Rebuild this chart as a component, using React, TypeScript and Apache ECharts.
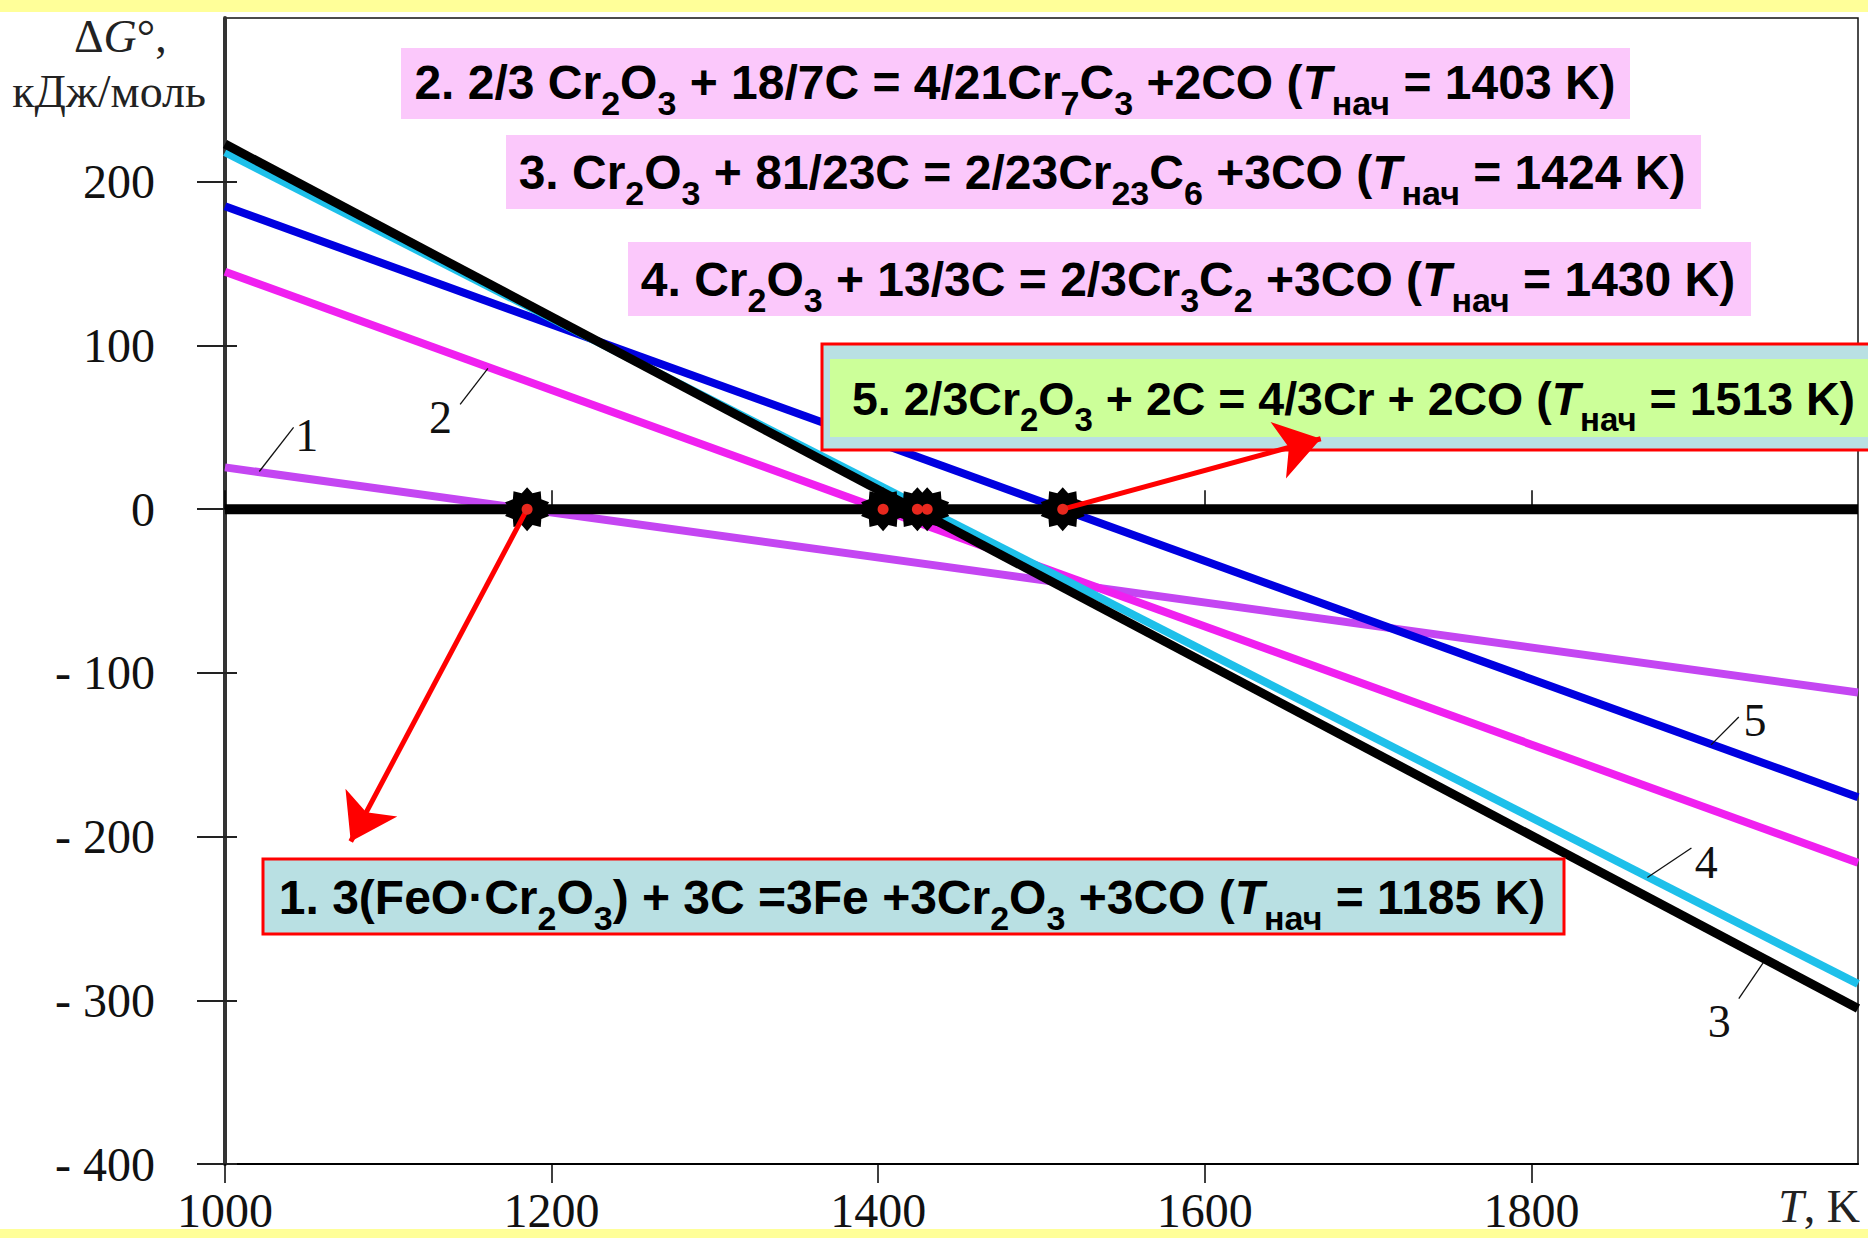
import React, { useEffect, useRef } from 'react';
import * as echarts from 'echarts';

// ---------------- data ----------------
const tempRange = [1000, 2000]; // T, K
const reaction1 = [25.5, -112]; // ΔG°, kJ/mol at tempRange
const reaction2 = [145, -216];
const reaction3 = [223, -305];
const reaction4 = [218, -290];
const reaction5 = [185, -176];
const zeroLevel = [0, 0];
const startTemps = [1185, 1403, 1424, 1430, 1513];
const curveLabels = ['1', '2', '3', '4', '5'];
const xTickValues = [1000, 1200, 1400, 1600, 1800];
const yTickValues = [-400, -300, -200, -100, 0, 100, 200];

// ---------------- annotation layout (in data coordinates) ----------------
const leaderLines = [
  [[1021, 23], [1042, 50]],
  [[1144, 64], [1161, 86]],
  [[1942, -277], [1927, -299]],
  [[1871, -225], [1898, -207]],
  [[1910, -144], [1927, -127]],
];
const labelSpots = [[1050, 45], [1132, 56], [1915, -313], [1907, -216], [1937, -129]];
const arrowTargets = [[1077, -203], [1671, 43]];
const arrowSources = [startTemps[0], startTemps[4]];

// ---------------- formula texts ----------------
const formula1 = [['n', '1. 3(FeO·Cr'], ['s', '2'], ['n', 'O'], ['s', '3'], ['n', ') + 3C =3Fe +3Cr'], ['s', '2'], ['n', 'O'], ['s', '3'], ['n', ' +3CO ('], ['t', 'T'], ['s', 'нач'], ['n', ' = 1185 K)']];
const formula2 = [['n', '2. 2/3 Cr'], ['s', '2'], ['n', 'O'], ['s', '3'], ['n', ' + 18/7C = 4/21Cr'], ['s', '7'], ['n', 'C'], ['s', '3'], ['n', ' +2CO ('], ['t', 'T'], ['s', 'нач'], ['n', ' = 1403 K)']];
const formula3 = [['n', '3. Cr'], ['s', '2'], ['n', 'O'], ['s', '3'], ['n', ' + 81/23C = 2/23Cr'], ['s', '23'], ['n', 'C'], ['s', '6'], ['n', ' +3CO ('], ['t', 'T'], ['s', 'нач'], ['n', ' = 1424 K)']];
const formula4 = [['n', '4. Cr'], ['s', '2'], ['n', 'O'], ['s', '3'], ['n', ' + 13/3C = 2/3Cr'], ['s', '3'], ['n', 'C'], ['s', '2'], ['n', ' +3CO ('], ['t', 'T'], ['s', 'нач'], ['n', ' = 1430 K)']];
const formula5 = [['n', '5. 2/3Cr'], ['s', '2'], ['n', 'O'], ['s', '3'], ['n', ' + 2C = 4/3Cr + 2CO ('], ['t', 'T'], ['s', 'нач'], ['n', ' = 1513 K)']];

const SANS = 'Liberation Sans';
const SERIF = 'Liberation Serif';
const PINK = '#fbc8fb';
const PALE_BLUE = '#b9e0e3';
const PALE_GREEN = '#ccff99';
const YELLOW = '#ffff99';

function makeRich(main: number, sub: number, drop: number) {
  return {
    n: { fontFamily: SANS, fontWeight: 'bold', fontSize: main, lineHeight: 80, fill: '#000' },
    t: { fontFamily: SANS, fontWeight: 'bold', fontStyle: 'italic', fontSize: main, lineHeight: 80, fill: '#000' },
    s: { fontFamily: SANS, fontWeight: 'bold', fontSize: sub, padding: [drop, 0, 0, 0], fill: '#000' },
  };
}
const formulaRich = makeRich(48, 34, 42);
const formulaRichTight = makeRich(46.5, 33, 41);

function richText(parts: string[][]) {
  return parts.map(([k, t]) => `{${k}|${t}}`).join('');
}

function starPath(points: number, outer: number, inner: number) {
  const segs: string[] = [];
  for (let i = 0; i < points * 2; i++) {
    const r = i % 2 === 0 ? outer : inner;
    const a = (Math.PI * i) / points - Math.PI / 2;
    segs.push(`${i === 0 ? 'M' : 'L'}${(r * Math.cos(a)).toFixed(2)} ${(r * Math.sin(a)).toFixed(2)}`);
  }
  return 'path://' + segs.join(' ') + ' Z';
}

const pairs = (ys: number[]) => tempRange.map((t, i) => [t, ys[i]]);

function lineSeries(name: string, ys: number[], color: string, width: number, z: number) {
  return {
    type: 'line',
    name,
    data: pairs(ys),
    showSymbol: false,
    symbol: 'none',
    silent: true,
    z,
    lineStyle: { color, width, cap: 'butt' },
    emphasis: { disabled: true },
  };
}

function formulaText(parts: string[][], x: number, y: number, align: string, rich: any = formulaRich) {
  return {
    type: 'text',
    x,
    y,
    z: 12,
    silent: true,
    style: {
      text: richText(parts),
      rich,
      align,
      verticalAlign: 'middle',
      fontFamily: SANS,
      fontWeight: 'bold',
      fontSize: 48,
      fill: '#000',
    },
  };
}

const serifLabel = { fontFamily: SERIF, fontSize: 48, color: '#111' };

const option = {
  animation: false,
  backgroundColor: '#ffffff',
  grid: {
    left: 225,
    top: 18,
    width: 1633,
    height: 1146,
    show: true,
    borderColor: '#111',
    borderWidth: 1.5,
    backgroundColor: 'transparent',
    containLabel: false,
    outerBoundsMode: 'none',
  },
  xAxis: [
    {
      type: 'value',
      position: 'bottom',
      min: 1000,
      max: 2000,
      interval: 200,
      axisLine: { show: true, onZero: false, lineStyle: { color: '#000', width: 2 } },
      axisTick: { show: true, inside: false, length: 19, customValues: xTickValues, lineStyle: { color: '#000', width: 1.5 } },
      axisLabel: { show: true, margin: 22, customValues: xTickValues, formatter: (v: number) => String(v), ...serifLabel },
      splitLine: { show: false },
    },
    {
      type: 'value',
      position: 'bottom',
      min: 1000,
      max: 2000,
      interval: 200,
      axisLine: { show: false },
      axisTick: { show: true, inside: true, length: 19, customValues: xTickValues, lineStyle: { color: '#000', width: 1.5 } },
      axisLabel: { show: false },
      splitLine: { show: false },
    },
  ],
  yAxis: [
    {
      type: 'value',
      position: 'left',
      min: -400,
      max: 300,
      interval: 100,
      axisLine: { show: true, onZero: false, lineStyle: { color: '#333', width: 4 } },
      axisTick: { show: true, inside: false, length: 28, customValues: yTickValues, lineStyle: { color: '#222', width: 2 } },
      axisLabel: {
        show: true,
        margin: 70,
        customValues: yTickValues,
        formatter: (v: number) => (v < 0 ? '- ' + -v : String(v)),
        ...serifLabel,
      },
      splitLine: { show: false },
    },
    {
      type: 'value',
      position: 'left',
      min: -400,
      max: 300,
      interval: 100,
      axisLine: { show: false },
      axisTick: { show: true, inside: true, length: 12, customValues: yTickValues, lineStyle: { color: '#222', width: 2 } },
      axisLabel: { show: false },
      splitLine: { show: false },
    },
  ],
  series: [
    lineSeries('1', reaction1, '#c446f2', 8, 3),
    lineSeries('2', reaction2, '#f020f0', 8, 3),
    lineSeries('5', reaction5, '#0000e0', 8, 3),
    lineSeries('4', reaction4, '#1ec0ea', 8, 4),
    lineSeries('3', reaction3, '#000000', 9, 5),
    {
      ...lineSeries('zero', zeroLevel, '#000000', 10, 6),
      markLine: {
        silent: true,
        z: 15,
        symbol: ['none', 'none'],
        label: { show: false },
        emphasis: { disabled: true },
        lineStyle: { color: '#111', width: 1.3, type: 'solid' },
        data: leaderLines.map(([a, b]) => [{ coord: a }, { coord: b }]),
      },
      markPoint: {
        silent: true,
        z: 15,
        symbol: 'circle',
        symbolSize: 1,
        itemStyle: { color: 'rgba(0,0,0,0)' },
        label: { show: true, position: 'inside', formatter: '{b}', fontFamily: SERIF, fontSize: 46, color: '#111' },
        emphasis: { disabled: true },
        data: curveLabels.map((n, i) => ({ name: n, coord: labelSpots[i] })),
      },
    },
    {
      type: 'scatter',
      name: 'start-star',
      data: startTemps.map((t) => [t, 0]),
      symbol: starPath(10, 50, 38),
      symbolSize: 44,
      silent: true,
      z: 20,
      itemStyle: { color: '#000', opacity: 1 },
      emphasis: { disabled: true },
    },
    {
      type: 'scatter',
      name: 'start-dot',
      data: startTemps.map((t) => [t, 0]),
      symbol: 'circle',
      symbolSize: 11,
      silent: true,
      z: 22,
      itemStyle: { color: '#e8281e', opacity: 1 },
      emphasis: { disabled: true },
      markLine: {
        silent: true,
        z: 21,
        symbol: ['none', 'arrow'],
        symbolSize: 44,
        label: { show: false },
        emphasis: { disabled: true },
        lineStyle: { color: '#ff0000', width: 5, type: 'solid', opacity: 1 },
        data: arrowSources.map((t, i) => [{ coord: [t, 0] }, { coord: arrowTargets[i] }]),
      },
    },
  ],
  graphic: [
    // yellow slide bands (below axis labels)
    { type: 'rect', z: 0, silent: true, shape: { x: 0, y: 0, width: 1868, height: 12 }, style: { fill: YELLOW } },
    { type: 'rect', z: 0, silent: true, shape: { x: 0, y: 1229, width: 1868, height: 9 }, style: { fill: YELLOW } },
    // reaction boxes
    { type: 'rect', z: 10, silent: true, shape: { x: 401, y: 48, width: 1229, height: 71 }, style: { fill: PINK } },
    formulaText(formula2, 1015, 82, 'center'),
    { type: 'rect', z: 10, silent: true, shape: { x: 506, y: 135, width: 1195, height: 74 }, style: { fill: PINK } },
    formulaText(formula3, 1102, 172, 'center'),
    { type: 'rect', z: 10, silent: true, shape: { x: 628, y: 242, width: 1123, height: 74 }, style: { fill: PINK } },
    formulaText(formula4, 1188, 279, 'center'),
    { type: 'rect', z: 10, silent: true, shape: { x: 822, y: 344, width: 1100, height: 106 }, style: { fill: PALE_BLUE, stroke: '#ff0000', lineWidth: 3 } },
    { type: 'rect', z: 10, silent: true, shape: { x: 830, y: 359, width: 1100, height: 78 }, style: { fill: PALE_GREEN } },
    formulaText(formula5, 852, 399, 'left', formulaRichTight),
    { type: 'rect', z: 10, silent: true, shape: { x: 263, y: 859, width: 1301, height: 75 }, style: { fill: PALE_BLUE, stroke: '#ff0000', lineWidth: 3 } },
    formulaText(formula1, 912, 897, 'center'),
    // axis titles
    {
      type: 'text', x: 74, y: 36, z: 12, silent: true,
      style: {
        text: '{a|Δ}{g|G}{a|°,}',
        rich: {
          a: { fontFamily: SERIF, fontSize: 46, fill: '#222' },
          g: { fontFamily: SERIF, fontSize: 46, fontStyle: 'italic', fill: '#222' },
        },
        align: 'left', verticalAlign: 'middle', fontFamily: SERIF, fontSize: 46, fill: '#222',
      },
    },
    {
      type: 'text', x: 206, y: 91, z: 12, silent: true,
      style: { text: 'кДж/моль', align: 'right', verticalAlign: 'middle', fontFamily: SERIF, fontSize: 46, fill: '#222' },
    },
    {
      type: 'text', x: 1860, y: 1206, z: 12, silent: true,
      style: {
        text: '{i|T}{a|, K}',
        rich: {
          a: { fontFamily: SERIF, fontSize: 46, fill: '#222' },
          i: { fontFamily: SERIF, fontSize: 46, fontStyle: 'italic', fill: '#222' },
        },
        align: 'right', verticalAlign: 'middle', fontFamily: SERIF, fontSize: 46, fill: '#222',
      },
    },
  ],
};

export default function App() {
  const ref = useRef<HTMLDivElement>(null);
  useEffect(() => {
    document.body.style.margin = '0';
    document.body.style.overflow = 'hidden';
    const chart = echarts.init(ref.current as HTMLDivElement, null, { renderer: 'svg' });
    chart.setOption(option as any);
    return () => chart.dispose();
  }, []);
  return <div ref={ref} style={{ width: 1868, height: 1238, background: '#fff' }} />;
}
